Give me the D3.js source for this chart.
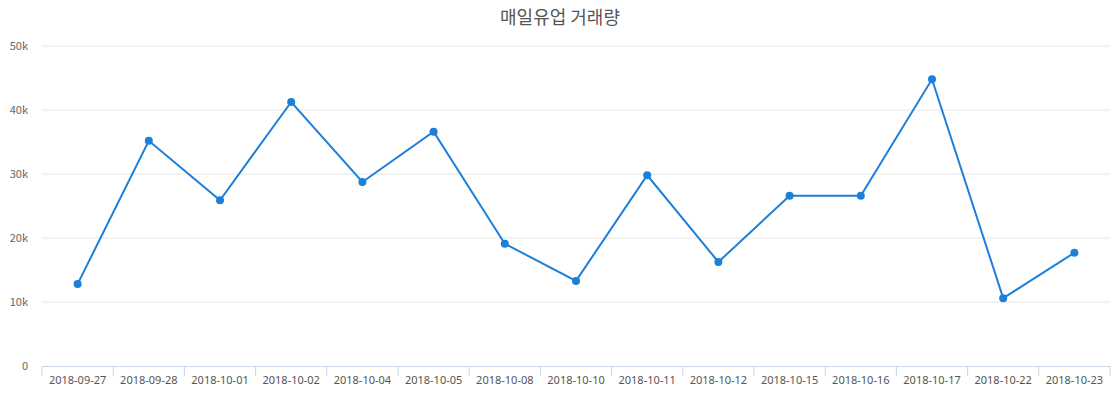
<!DOCTYPE html>
<html><head><meta charset="utf-8">
<script src="https://cdn.jsdelivr.net/npm/d3@7"></script>
<style>body{margin:0;background:#fff;font-family:"Noto Sans CJK KR","Noto Sans",sans-serif}</style>
</head><body><svg id="c" width="1120" height="400"></svg>
<script>
const categories=["2018-09-27","2018-09-28","2018-10-01","2018-10-02","2018-10-04","2018-10-05","2018-10-08","2018-10-10","2018-10-11","2018-10-12","2018-10-15","2018-10-16","2018-10-17","2018-10-22","2018-10-23"];
const values=[12800,35200,25900,41250,28750,36600,19100,13300,29800,16250,26600,26600,44800,10600,17700];
const yTicks=[0,10000,20000,30000,40000,50000];
const title="매일유업 거래량";
const svg=d3.select("#c");
const m={l:42,r:10,t:46,b:34};
const W=1120,H=400;
const x=d3.scaleBand().domain(categories).range([m.l,W-m.r]);
const y=d3.scaleLinear().domain([0,50000]).range([H-m.b,m.t]);
svg.append("text").attr("x",560).attr("y",24).attr("text-anchor","middle").attr("font-size",18).attr("fill","#555").text(title);
const g=svg.append("g");
g.selectAll("line.grid").data(yTicks.slice(1)).join("line").attr("x1",m.l).attr("x2",W-m.r).attr("y1",d=>y(d)).attr("y2",d=>y(d)).attr("stroke","#e6e6e6");
g.selectAll("text.yl").data(yTicks).join("text").attr("x",m.l-14).attr("y",d=>y(d)+4).attr("text-anchor","end").attr("font-size",11).attr("fill","#666").text(d=>d===0?"0":d/1000+"k");
const ax=svg.append("g").attr("transform",`translate(0,${H-m.b})`).call(d3.axisBottom(x).tickSize(0).tickPadding(10));
ax.select(".domain").attr("stroke","#ccd6eb");
ax.selectAll("text").attr("font-size",11).attr("fill","#555").attr("font-family","Noto Sans, sans-serif");
const edges=categories.map(c=>x(c)).concat([W-m.r]);
svg.selectAll("line.tk").data(edges).join("line").attr("x1",d=>d).attr("x2",d=>d).attr("y1",H-m.b).attr("y2",H-m.b+10).attr("stroke","#ccd6eb");
const cx=c=>x(c)+x.bandwidth()/2;
svg.append("path").datum(values).attr("fill","none").attr("stroke","#1e7fd9").attr("stroke-width",2)
 .attr("d",d3.line().x((d,i)=>cx(categories[i])).y(d=>y(d)));
svg.selectAll("circle").data(values).join("circle").attr("cx",(d,i)=>cx(categories[i])).attr("cy",d=>y(d)).attr("r",4).attr("fill","#1e7fd9");
</script></body></html>
